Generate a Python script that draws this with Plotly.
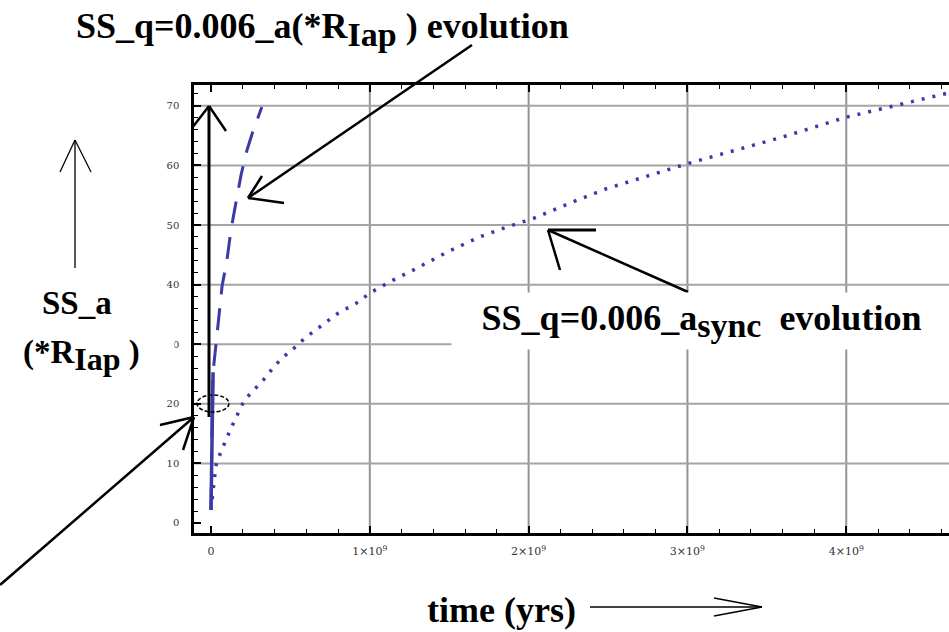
import plotly.graph_objects as go

# ---------------- data (time in units of 1e9 yrs) ----------------
sync_t = [0.0, 0.005, 0.01, 0.015, 0.02, 0.03, 0.04, 0.07, 0.10, 0.145, 0.21, 0.28, 0.33,
          0.39, 0.44, 0.53, 0.59, 0.70, 0.80, 0.93, 1.0, 1.15, 1.27, 1.49, 1.69, 1.90,
          2.02, 2.28, 2.49, 3.0, 3.59, 4.0, 4.52, 4.65]
sync_a = [2.2, 3.5, 5.0, 6.5, 8.0, 9.5, 10.5, 12.6, 14.3, 17.0, 20.6, 22.6, 24.0,
          26.0, 27.5, 29.5, 31.0, 33.2, 35.2, 37.1, 38.6, 40.8, 42.4, 45.5, 48.0, 50.0,
          51.0, 53.9, 56.1, 60.3, 64.7, 68.1, 71.4, 72.2]

a_t = [0.0, 0.002, 0.005, 0.008, 0.013, 0.03, 0.04, 0.057, 0.07, 0.10, 0.107, 0.126,
       0.145, 0.164, 0.19, 0.227, 0.26, 0.32]
a_a = [2.2, 8.0, 14.0, 20.0, 25.3, 29.5, 32.7, 36.6, 39.8, 44.0, 45.5, 49.2,
       52.0, 54.5, 58.5, 62.6, 65.4, 69.8]
N_SOLID = 5  # early, densely drawn part of the a-curve

x_ticks = [0, 1, 2, 3, 4]
x_ticktext = ["0", "1×10<sup>9</sup>", "2×10<sup>9</sup>", "3×10<sup>9</sup>", "4×10<sup>9</sup>"]
y_ticks = [0, 10, 20, 30, 40, 50, 60, 70]
x_grid = [1, 2, 3, 4]
y_grid = [10, 20, 30, 40, 50, 60, 70]

SCALE = 1e9

# ---------------- layout geometry ----------------
W, H = 949, 632
L, R, T, B = 194, 0, 85, 99
PW, PH = W - L - R, H - T - B
BOT = H - B


def P(px, py):
    return (px - L) / PW, (BOT - py) / PH


BLUE = "#3b3ba8"
SERIF = "Liberation Serif"

fig = go.Figure()
fig.add_trace(go.Scatter(x=[t * SCALE for t in sync_t], y=sync_a, mode="lines",
                         line=dict(color=BLUE, width=3.5, dash="3px,8px"),
                         name="SS_q=0.006_a_sync", showlegend=False))
fig.add_trace(go.Scatter(x=[t * SCALE for t in a_t], y=a_a, mode="lines",
                         line=dict(color=BLUE, width=3, dash="22px,14px"),
                         name="SS_q=0.006_a", showlegend=False))
fig.add_trace(go.Scatter(x=[t * SCALE for t in a_t[:N_SOLID]], y=a_a[:N_SOLID], mode="lines",
                         line=dict(color=BLUE, width=3.5),
                         name="SS_q=0.006_a early", showlegend=False))

shapes = []
# grid lines
for g in x_grid:
    shapes.append(dict(type="line", xref="x", yref="paper", x0=g * SCALE, x1=g * SCALE, y0=0, y1=1,
                       line=dict(color="#949494", width=2), layer="below"))
for g in y_grid:
    shapes.append(dict(type="line", xref="paper", yref="y", x0=0, x1=1, y0=g, y1=g,
                       line=dict(color="#a4a4a4", width=2), layer="below"))


def seg(p1, p2, w=2.5, color="black", dash=None):
    x0, y0 = P(*p1)
    x1, y1 = P(*p2)
    ln = dict(color=color, width=w)
    if dash:
        ln["dash"] = dash
    shapes.append(dict(type="line", xref="paper", yref="paper", x0=x0, y0=y0, x1=x1, y1=y1,
                       line=ln, layer="above"))


# vertical black arrow at t=0
seg((209, 417), (209, 106), 3)
seg((209, 106), (192, 128), 2.5)
seg((209, 106), (226, 131), 2.5)
# arrow from title to dashed curve
seg((472, 45), (248, 198), 2.5)
seg((248, 198), (262, 176), 2.5)
seg((248, 198), (284, 203), 2.5)
# arrow from right label to dotted curve
seg((688, 292), (548, 230), 2.5)
seg((548, 230), (596, 230), 3)
seg((548, 230), (560, 270), 2.5)
# arrow from lower-left to ellipse
seg((0, 585), (194, 417), 2.5)
seg((194, 417), (160, 425), 2.5)
seg((194, 417), (183, 450), 2.5)
# ellipse
ex0, ey0 = P(197, 412)
ex1, ey1 = P(229, 395)
shapes.append(dict(type="circle", xref="paper", yref="paper", x0=ex0, y0=ey0, x1=ex1, y1=ey1,
                   line=dict(color="black", width=1.5, dash="4px,2px"), layer="above"))
# left vertical arrow (y label)
seg((75, 268), (75, 140), 1.3)
seg((75, 140), (60, 172), 1.3)
seg((75, 140), (91, 172), 1.3)
# time arrow
seg((590, 607), (762, 607), 1.3)
seg((714, 598), (762, 607), 1.3)
seg((714, 616), (762, 607), 1.3)

annotations = []


def txt(text, px, py, size=26, **kw):
    x, y = P(px, py)
    d = dict(text=text, x=x, y=y, xref="paper", yref="paper", showarrow=False,
             xanchor="center", yanchor="middle",
             font=dict(family=SERIF, size=size, color="black"))
    d.update(kw)
    annotations.append(d)


def sub(s, size):
    return "<sub><span style='font-size:%dpx'>%s</span></sub>" % (size, s)


txt("<b>SS_q=0.006_a(*R" + sub("Iap", 34) + " ) evolution</b>", 322, 30, 36)
txt("<b>SS_q=0.006_a" + sub("sync", 34) + "  evolution</b>", 701, 321, 36,
    bgcolor="white", width=495, height=52, borderpad=2)
# cover part of the "30" tick label, as in the reference
txt(" ", 169.5, 345, 10, bgcolor="white", width=8, height=14, borderpad=0)
txt("<b>SS_a</b>", 77, 303, 33)
txt("<b>(*R" + sub("Iap", 32) + " )</b>", 81, 355, 33)
txt("<b>time (yrs)</b>", 501, 610, 36)

fig.update_layout(
    width=W, height=H,
    margin=dict(l=L, r=R, t=T, b=B, pad=0),
    paper_bgcolor="white", plot_bgcolor="white",
    showlegend=False,
    shapes=shapes, annotations=annotations,
    xaxis=dict(range=[-0.107 * SCALE, 4.647 * SCALE],
               tickvals=[v * SCALE for v in x_ticks], ticktext=x_ticktext,
               showgrid=False, zeroline=False,
               showline=True, linecolor="black", linewidth=3, mirror="allticks",
               ticks="inside", ticklen=7, tickwidth=1.5, tickcolor="black",
               ticklabelstandoff=6,
               minor=dict(dtick=0.2 * SCALE, ticks="inside", ticklen=4, tickcolor="black",
                          tickwidth=1.2, showgrid=False),
               tickfont=dict(family="DejaVu Serif", size=11, color="#333")),
    yaxis=dict(range=[-1.68, 73.5],
               tickvals=y_ticks,
               showgrid=False, zeroline=False,
               showline=True, linecolor="black", linewidth=2.5, mirror=False,
               ticks="inside", ticklen=7, tickwidth=1.5, tickcolor="black",
               ticklabelstandoff=10,
               minor=dict(dtick=2, ticks="inside", ticklen=4, tickcolor="black",
                          tickwidth=1.2, showgrid=False),
               tickfont=dict(family="DejaVu Serif", size=10, color="#333")),
)

fig.write_html("out.html")
